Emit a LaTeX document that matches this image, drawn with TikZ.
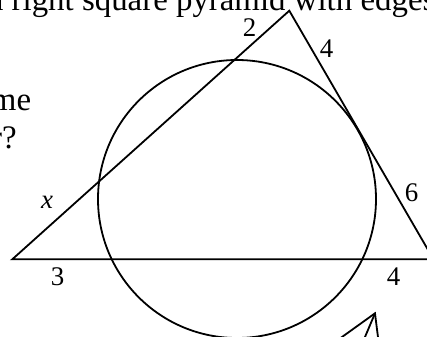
\documentclass[tikz,border=0pt]{standalone}
\usepackage{fontspec}
\setmainfont{Liberation Serif}
\begin{document}
\begin{tikzpicture}[x=1bp,y=-1bp,line width=1.8bp,
  lbl/.style={inner sep=0pt,font=\fontsize{27}{31}\selectfont},
  txt/.style={inner sep=0pt,font=\fontsize{33}{39}\selectfont}]
\useasboundingbox (0,0) rectangle (427,337);
\clip (0,0) rectangle (427,337);
% text fragments
\node[txt,anchor=base west] (t1) at (-12,10) {a right square pyramid with edges};
\node[txt,anchor=base east] (t2) at (32,110) {me};
\node[txt,anchor=base east] (t3) at (17.5,148) {r?};
% triangle and circle
\coordinate (A) at (289.3,10.7);
\coordinate (B) at (12.3,259.3);
\coordinate (C) at (433.5,259.3);
\coordinate (O) at (237,199);
\draw[line join=miter] (B) -- (A) -- (C) -- cycle;
\draw (O) circle[radius=139bp];
% labels
\node[lbl] (l2) at (249.5,27.5) {2};
\node[lbl] (l4a) at (326.5,48.5) {4};
\node[lbl] (l6) at (411.5,192.5) {6};
\node[lbl] (lx) at (47,202) {\textit{x}};
\node[lbl] (l3) at (57.5,276.5) {3};
\node[lbl] (l4b) at (393.5,276.5) {4};
% partial figure bottom right
\coordinate (P) at (375,313.3);
\coordinate (Q1) at (323.9,350);
\coordinate (Q2) at (359.5,350);
\coordinate (Q3) at (379.6,350);
\draw (Q1) -- (P) -- (Q3);
\draw (P) -- (Q2);
\end{tikzpicture}
\end{document}
